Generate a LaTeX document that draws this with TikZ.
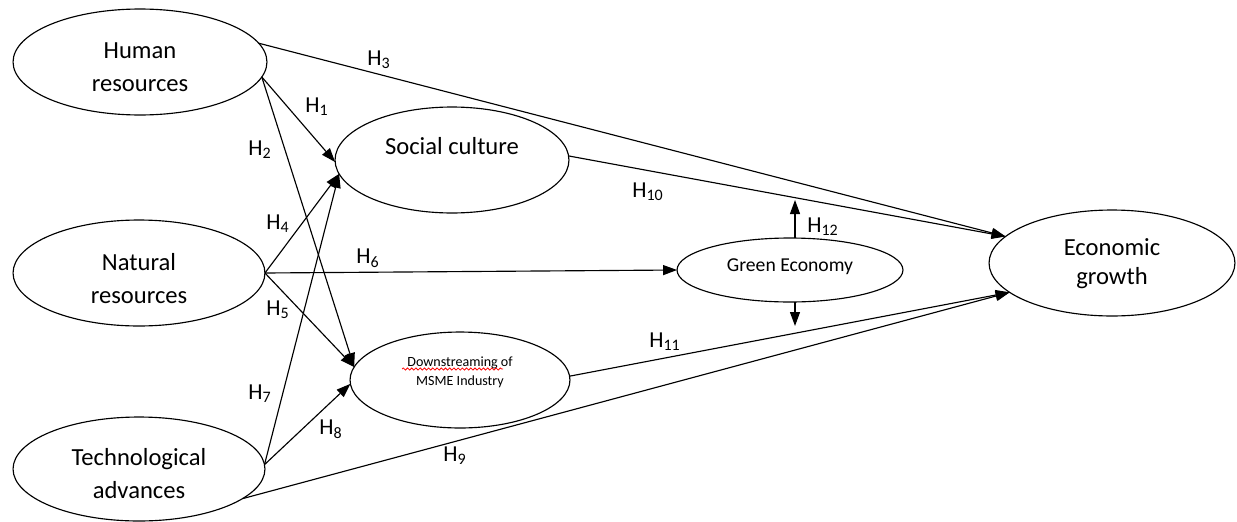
\documentclass[tikz,border=0pt]{standalone}
\usepackage{fontspec}
\setmainfont{Carlito}
\usepackage{tikz}
\usetikzlibrary{positioning, shapes.geometric, arrows.meta, decorations.pathmorphing}
\tikzstyle{diagram} = [x = 0.02cm, y = -0.02cm]
\tikzstyle{constructStyle} = [ellipse, draw, line width = 0.65pt, inner sep = 0, outer sep = 0]
\tikzstyle{constructText} = [align = center, inner sep = 0, font = \fontsize{14}{18.8}\selectfont]
\tikzstyle{growthText} = [font = \fontsize{14}{16.4}\selectfont]
\tikzstyle{smallText} = [font = \fontsize{11.2}{13}\selectfont]
\tikzstyle{tinyText} = [font = \fontsize{8}{10.8}\selectfont]
\tikzstyle{pathArrow} = [line width = 0.65pt, -{Triangle[length = 0.28cm, width = 0.2cm]}]
\tikzstyle{hypText} = [font = \fontsize{13}{15}\selectfont, inner sep = 0]
\tikzstyle{spellLine} = [color = red, line width = 0.45pt, decorate, decoration = {snake, amplitude = 0.6pt, segment length = 2.4pt}]
\newcommand{\construct}[8][]{
  \node [constructStyle, minimum width = #5 * 0.04cm, minimum height = #6 * 0.04cm] (#2) at (#3, #4) {};
  \node [constructText, #1] (#2Text) at (#3, #7) {#8};
}
\newcommand{\hypLabel}[4]{\node [hypText] (#1) at (#2, #3) {H\textsubscript{#4}};}

\begin{document}
\begin{tikzpicture}[diagram]
        \useasboundingbox (0, 0) rectangle (1237, 521);
        \construct{human}{140}{62}{127}{53}{67}{Human\\resources}
        \construct{natural}{139}{273}{126}{53}{279}{Natural\\resources}
        \construct{tech}{139}{469}{126}{52}{474}{Technological\\advances}
        \construct{social}{452}{160}{117}{53}{146}{Social culture}
        \construct[tinyText]{downstream}{460}{380}{110}{48}{372}{Downstreaming of\\MSME Industry}
        \construct[smallText]{green}{790}{270}{113}{32}{267}{Green Economy}
        \construct[growthText]{growth}{1112}{263}{123}{53}{264}{Economic\\growth}

        \draw [spellLine] (402, 369) -- (503, 369);

        \draw [pathArrow] (human.-7) -- (social.181);
        \draw [pathArrow] (human.-7) -- (downstream.173);
        \draw [pathArrow] (human.9) -- (growth.166);
        \draw [pathArrow] (natural.east) -- (social.187);
        \draw [pathArrow] (natural.east) -- (downstream.173);
        \draw [pathArrow] (natural.east) -- (green.west);
        \draw [pathArrow] (tech.2) -- (social.187);
        \draw [pathArrow] (tech.2) -- (downstream.182);
        \draw [pathArrow] (tech.-16) -- (growth.196);
        \draw [pathArrow] (social.2) -- (growth.166);
        \draw [pathArrow] (downstream.2) -- (growth.196);

        \coordinate (greenUp) at (795, 200);
        \coordinate (greenDown) at (795, 326);
        \draw [pathArrow] (green.north -| greenUp) -- (greenUp);
        \draw [pathArrow] (green.south -| greenDown) -- (greenDown);

        \hypLabel{hOne}{317}{107}{1}
        \hypLabel{hTwo}{260}{150}{2}
        \hypLabel{hThree}{379}{60}{3}
        \hypLabel{hFour}{278}{224}{4}
        \hypLabel{hFive}{278}{310}{5}
        \hypLabel{hSix}{368}{258}{6}
        \hypLabel{hSeven}{260}{394}{7}
        \hypLabel{hEight}{331}{429}{8}
        \hypLabel{hNine}{455}{456}{9}
        \hypLabel{hTen}{648}{192}{10}
        \hypLabel{hEleven}{665}{342}{11}
        \hypLabel{hTwelve}{823}{227}{12}
      \end{tikzpicture}
\end{document}
